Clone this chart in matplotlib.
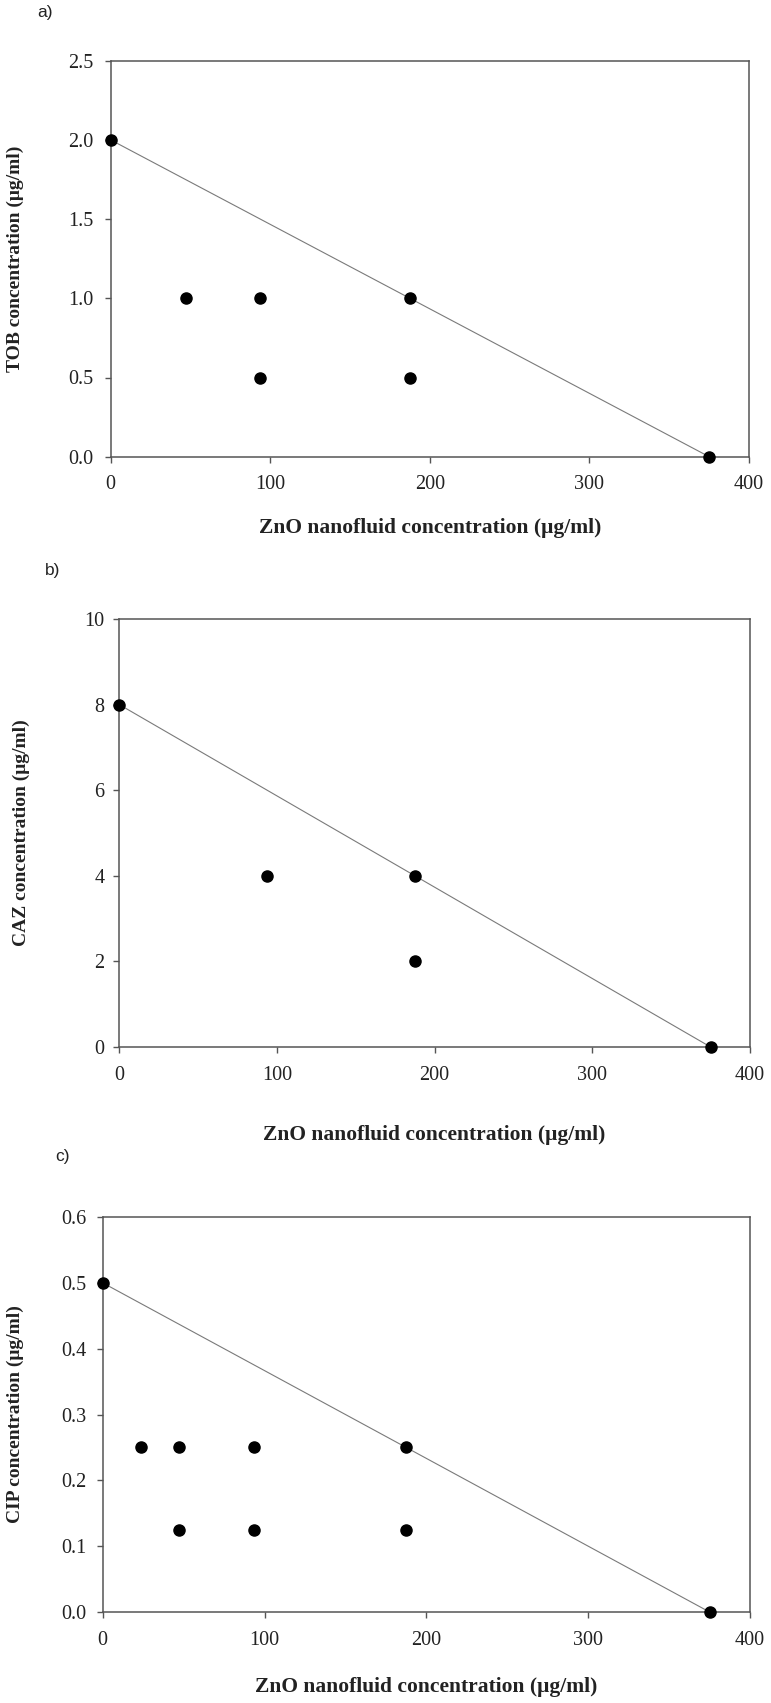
import matplotlib
matplotlib.use("Agg")
import matplotlib.pyplot as plt

W, H = 771, 1703
DPI = 100

# ---- data ----
zno_a = [0, 46.875, 93.75, 187.5, 93.75, 187.5, 375]
tob = [2.0, 1.0, 1.0, 1.0, 0.5, 0.5, 0.0]
line_a_x = [0, 375]
line_a_y = [2.0, 0.0]

zno_b = [0, 93.75, 187.5, 187.5, 375]
caz = [8, 4, 4, 2, 0]
line_b_x = [0, 375]
line_b_y = [8, 0]

zno_c = [0, 23.4375, 46.875, 93.75, 187.5, 46.875, 93.75, 187.5, 375]
cip = [0.5, 0.25, 0.25, 0.25, 0.25, 0.125, 0.125, 0.125, 0.0]
line_c_x = [0, 375]
line_c_y = [0.5, 0.0]

x_ticks = [0, 100, 200, 300, 400]
yticks_a = [0.0, 0.5, 1.0, 1.5, 2.0, 2.5]
yticks_b = [0, 2, 4, 6, 8, 10]
yticks_c = [0.0, 0.1, 0.2, 0.3, 0.4, 0.5, 0.6]

xlabel = "ZnO nanofluid concentration (μg/ml)"
ylabels = ["TOB concentration (μg/ml)", "CAZ concentration (μg/ml)", "CIP concentration (μg/ml)"]
panel_tags = ["a)", "b)", "c)"]

fig = plt.figure(figsize=(W / DPI, H / DPI), dpi=DPI)
serif = "Liberation Serif"

# pixel boxes: left, right, top, bottom
boxes = [(110.7, 749, 60.7, 456.7), (119.3, 750, 619, 1047), (102.7, 750, 1217, 1612)]
tag_pos = [(45, 12), (53, 570), (62, 1156)]
ylab_x = [15, 21, 15]
xlab_y = [528, 1135, 1687]
ypads = [8.0, 6.0, 7.5]

datasets = [
    (zno_a, tob, line_a_x, line_a_y, yticks_a, "%.1f"),
    (zno_b, caz, line_b_x, line_b_y, yticks_b, "%d"),
    (zno_c, cip, line_c_x, line_c_y, yticks_c, "%.1f"),
]

for i, ((xs, ys, lx, ly, yt, fmt), (l, r, t, b)) in enumerate(zip(datasets, boxes)):
    ax = fig.add_axes([l / W, 1 - b / H, (r - l) / W, (b - t) / H])
    ax.plot(lx, ly, color="#7a7a7a", lw=0.8, zorder=2)
    ax.plot(xs, ys, "o", color="black", ms=8, ls="none", clip_on=False, zorder=3)
    ax.set_xlim(0, 400)
    ax.set_ylim(yt[0], yt[-1])
    ax.set_xticks(x_ticks)
    ax.set_yticks(yt)
    ax.set_yticklabels([fmt % v for v in yt])
    for s in ax.spines.values():
        s.set_color("#555555")
        s.set_linewidth(1.1)
    ax.tick_params(axis="both", direction="out", length=4.5, width=1.0, color="#555555",
                   labelsize=14.5, labelcolor="#222222")
    ax.tick_params(axis="x", pad=9)
    ax.tick_params(axis="y", pad=ypads[i])
    for lab in ax.get_xticklabels() + ax.get_yticklabels():
        lab.set_fontfamily(serif)
    ax.set_xlabel(xlabel, fontfamily=serif, fontweight="bold", fontsize=15.5, color="#222222")
    ax.xaxis.set_label_coords(((l + r) / 2 - l) / (r - l), -(xlab_y[i] - b) / (b - t))
    ax.xaxis.label.set_va("center")
    ax.set_ylabel(ylabels[i], fontfamily=serif, fontweight="bold", fontsize=14, color="#222222")
    ax.yaxis.set_label_coords(-(l - ylab_x[i]) / (r - l), 0.5)
    ax.yaxis.label.set_va("center")
    tx, ty = tag_pos[i]
    fig.text(tx / W, 1 - ty / H, panel_tags[i], fontfamily="Liberation Sans", fontsize=12.5,
             ha="center", va="center", color="#222222")

fig.savefig("out.png", dpi=DPI)
